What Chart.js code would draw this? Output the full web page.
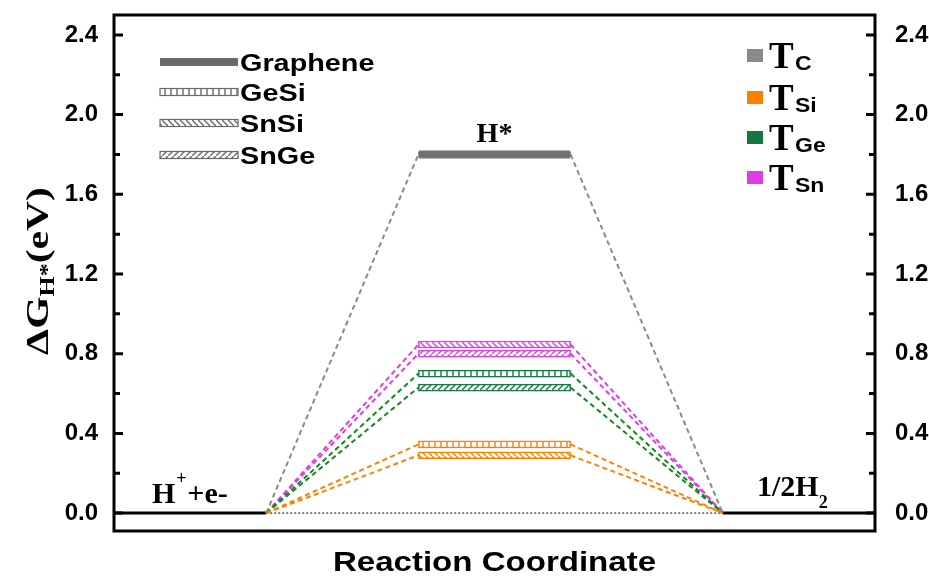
<!DOCTYPE html>
<html>
<head>
<meta charset="utf-8">
<script src="https://cdn.jsdelivr.net/npm/chart.js@4.4.1/dist/chart.umd.min.js"></script>
<style>
  body { margin: 0; background: #fff; }
  #wrap { width: 929px; height: 576px; }
</style>
</head>
<body>
<div id="wrap"><canvas id="gibbs"></canvas></div>
<script>
// reaction stages on the x axis (start state, H* state, final state)
const startStage = [0, 1];
const midStage = [2, 3];
const endStage = [4, 5];

// free energy of H* (eV) for each terminal atom
const graphene = [1.80];
const tSi = [0.345, 0.29];   // GeSi, SnSi
const tGe = [0.70, 0.63];    // GeSi, SnGe
const tSn = [0.846, 0.80];   // SnSi, SnGe
const tSiKind = ['GeSi', 'SnSi'];
const tGeKind = ['GeSi', 'SnGe'];
const tSnKind = ['SnSi', 'SnGe'];

const yTicks = [0, 0.2, 0.4, 0.6, 0.8, 1.0, 1.2, 1.4, 1.6, 1.8, 2.0, 2.2, 2.4];

const colors = { C: '#6f6f6f', Si: '#ff8000', Ge: '#15793f', Sn: '#e03ce8' };
const dashColors = { C: '#8a8a8a', Si: '#ff8000', Ge: '#118a1c', Sn: '#e03ce8' };

// hatch fill like the origin plot
function hatch(color, kind) {
    const c = document.createElement('canvas');
    c.width = 6; c.height = 6;
    const g = c.getContext('2d');
    g.fillStyle = '#fff';
    g.fillRect(0, 0, 6, 6);
    g.strokeStyle = color;
    g.lineWidth = 1.4;
    g.beginPath();
    if (kind === 'GeSi') { g.moveTo(3, 0); g.lineTo(3, 6); }
    else if (kind === 'SnSi') { g.moveTo(0, 0); g.lineTo(6, 6); }
    else { g.moveTo(0, 6); g.lineTo(6, 0); }
    g.stroke();
    return g.createPattern(c, 'repeat');
}

function levelBars(vals, kinds, color) {
    return {
        type: 'bar', indexAxis: 'y', grouped: false, order: 1,
        data: vals.map(v => ({ x: midStage, y: v })),
        backgroundColor: kinds.map(k => hatch(color, k)),
        borderColor: color, borderWidth: 1.5, borderSkipped: false,
        barThickness: 7
    };
}

// dashed connectors start -> H* -> final, middle segment hidden under the bar
function connectors(vals, color) {
    return vals.map(v => ({
        type: 'line', order: 2,
        data: [{ x: startStage[1], y: 0 }, { x: midStage[0], y: v }, { x: midStage[1], y: v }, { x: endStage[0], y: 0 }],
        borderColor: color, borderWidth: 2, borderDash: [5, 3.5], pointRadius: 0,
        segment: { borderColor: c => c.p0DataIndex === 1 ? 'rgba(0,0,0,0)' : color }
    }));
}

const datasets = [
    { type: 'line', order: 3, data: startStage.map(x => ({ x: x, y: 0 })), borderColor: '#000', borderWidth: 3, pointRadius: 0 },
    { type: 'line', order: 3, data: endStage.map(x => ({ x: x, y: 0 })), borderColor: '#000', borderWidth: 3, pointRadius: 0 },
    { type: 'line', order: 3, data: [{ x: startStage[1], y: 0 }, { x: endStage[0], y: 0 }], borderColor: '#000', borderWidth: 1, borderDash: [2, 2], pointRadius: 0 },
    ...connectors(graphene, dashColors.C),
    ...connectors(tSi, dashColors.Si),
    ...connectors(tGe, dashColors.Ge),
    ...connectors(tSn, dashColors.Sn),
    {
        type: 'bar', indexAxis: 'y', grouped: false, order: 1,
        data: graphene.map(v => ({ x: midStage, y: v })),
        backgroundColor: colors.C, borderColor: '#7a7a7a', borderWidth: 1, borderSkipped: false,
        borderRadius: 2, barThickness: 8
    },
    levelBars(tSi, tSiKind, colors.Si),
    levelBars(tGe, tGeKind, colors.Ge),
    levelBars(tSn, tSnKind, colors.Sn)
];

const SANS = '"Liberation Sans", Arial, sans-serif';
const SERIF = '"Liberation Serif", "Times New Roman", serif';

function stretchText(ctx, txt, x, y, font, sx, align) {
    ctx.save();
    ctx.font = font;
    const w = ctx.measureText(txt).width * sx;
    ctx.translate(align === 'center' ? x - w / 2 : x, y);
    ctx.scale(sx, 1);
    ctx.textAlign = 'left';
    ctx.fillText(txt, 0, 0);
    ctx.restore();
    return w;
}

const decor = {
    id: 'decor',
    afterDraw(chart) {
        const ctx = chart.ctx;
        const a = chart.chartArea;
        const y = chart.scales.y;
        ctx.save();
        // frame
        ctx.strokeStyle = '#000';
        ctx.lineWidth = 3;
        ctx.strokeRect(a.left, a.top, a.right - a.left, a.bottom - a.top);
        // inward ticks both sides
        yTicks.forEach((v, i) => {
            const py = y.getPixelForValue(v);
            const len = i % 2 === 0 ? 9 : 6;
            ctx.beginPath();
            ctx.moveTo(a.left, py); ctx.lineTo(a.left + len, py);
            ctx.moveTo(a.right, py); ctx.lineTo(a.right - len, py);
            ctx.stroke();
        });
        ctx.fillStyle = '#000';
        ctx.textBaseline = 'alphabetic';

        // x axis title
        stretchText(ctx, 'Reaction Coordinate', (a.left + a.right) / 2, 571, 'bold 28px ' + SANS, 1.18, 'center');

        // y axis title, rotated and a bit stretched like the original
        ctx.save();
        ctx.translate(48, 271);
        ctx.rotate(-Math.PI / 2);
        ctx.scale(1.3, 1);
        ctx.font = 'bold 32px ' + SERIF;
        const w1 = ctx.measureText('\u0394G').width;
        ctx.font = 'bold 20px ' + SERIF;
        const w2 = ctx.measureText('H*').width;
        ctx.font = 'bold 32px ' + SERIF;
        const w3 = ctx.measureText('(eV)').width;
        let x0 = -(w1 + w2 + w3) / 2;
        ctx.fillText('\u0394G', x0, 0);
        ctx.font = 'bold 20px ' + SERIF;
        ctx.fillText('H*', x0 + w1, 6);
        ctx.font = 'bold 32px ' + SERIF;
        ctx.fillText('(eV)', x0 + w1 + w2, 0);
        ctx.restore();

        // state labels
        ctx.font = 'bold 28px ' + SERIF;
        ctx.textAlign = 'center';
        ctx.fillText('H*', (chart.scales.x.getPixelForValue(midStage[0]) + chart.scales.x.getPixelForValue(midStage[1])) / 2, 142);
        ctx.textAlign = 'left';
        ctx.font = 'bold 30px ' + SERIF;
        ctx.fillText('H', 152, 503);
        let hw = ctx.measureText('H').width;
        ctx.font = 'bold 18px ' + SERIF;
        ctx.fillText('+', 152 + hw + 1, 484);
        ctx.font = 'bold 30px ' + SERIF;
        ctx.fillText('+e-', 152 + hw + 12, 503);
        ctx.fillText('1/2H', 757, 496);
        const rw = ctx.measureText('1/2H').width;
        ctx.font = 'bold 18px ' + SERIF;
        ctx.fillText('2', 757 + rw, 508);

        // left legend: substrates
        const legY = [62, 92, 123, 155];
        const legNames = ['Graphene', 'GeSi', 'SnSi', 'SnGe'];
        legNames.forEach((n, i) => {
            const ly = legY[i];
            if (i === 0) {
                ctx.fillStyle = '#6a6a6a';
                ctx.fillRect(160, ly - 4, 78, 8);
            } else {
                ctx.fillStyle = hatch('#6a6a6a', n);
                ctx.fillRect(160, ly - 3.5, 78, 7);
                ctx.strokeStyle = '#6a6a6a';
                ctx.lineWidth = 1.2;
                ctx.strokeRect(160, ly - 3.5, 78, 7);
            }
            ctx.fillStyle = '#000';
            stretchText(ctx, n, 240, ly + 9, 'bold 24px ' + SANS, 1.2, 'left');
        });

        // right legend: terminal atoms
        const tY = [68, 110, 150, 190];
        const tSub = ['C', 'Si', 'Ge', 'Sn'];
        tSub.forEach((s, i) => {
            const by = tY[i];
            ctx.fillStyle = s === 'C' ? '#8a8a8a' : colors[s];
            ctx.fillRect(747, by - 19, 16, 13);
            ctx.fillStyle = '#000';
            ctx.font = 'bold 37px ' + SERIF;
            ctx.fillText('T', 769, by);
            stretchText(ctx, s, 795, by + 2, 'bold 20px ' + SANS, 1.15, 'left');
        });
        ctx.restore();
    }
};

const tickFont = { family: SANS, weight: 'bold', size: 24 };
const noPad = s => { s.paddingTop = 0; s.paddingBottom = 0; };

new Chart(document.getElementById('gibbs'), {
    data: { datasets: datasets },
    options: {
        responsive: true,
        maintainAspectRatio: false,
        animation: false,
        events: [],
        layout: { padding: { top: 15, left: 0, right: 0, bottom: 0 } },
        plugins: { legend: { display: false }, tooltip: { enabled: false } },
        scales: {
            x: {
                type: 'linear', min: startStage[0], max: endStage[1], offset: false,
                grid: { display: false }, border: { display: false },
                ticks: { display: false },
                afterFit: s => { s.height = 45; s.paddingLeft = 0; s.paddingRight = 0; }
            },
            y: {
                type: 'linear', position: 'left', min: -0.09, max: 2.5, offset: false,
                grid: { display: false, offset: false }, border: { display: false },
                afterBuildTicks: s => { s.ticks = yTicks.map(v => ({ value: v })); },
                ticks: { color: '#000', font: tickFont, padding: 8, callback: (v, i) => i % 2 === 0 ? v.toFixed(1) : '' },
                afterFit: s => { s.width = 114; noPad(s); }
            },
            y2: {
                type: 'linear', position: 'right', min: -0.09, max: 2.5, offset: false,
                grid: { display: false }, border: { display: false },
                afterBuildTicks: s => { s.ticks = yTicks.map(v => ({ value: v })); },
                ticks: { color: '#000', font: tickFont, padding: 12, callback: (v, i) => i % 2 === 0 ? v.toFixed(1) : '' },
                afterFit: s => { s.width = 54; noPad(s); }
            }
        }
    },
    plugins: [decor]
});
</script>
</body>
</html>
